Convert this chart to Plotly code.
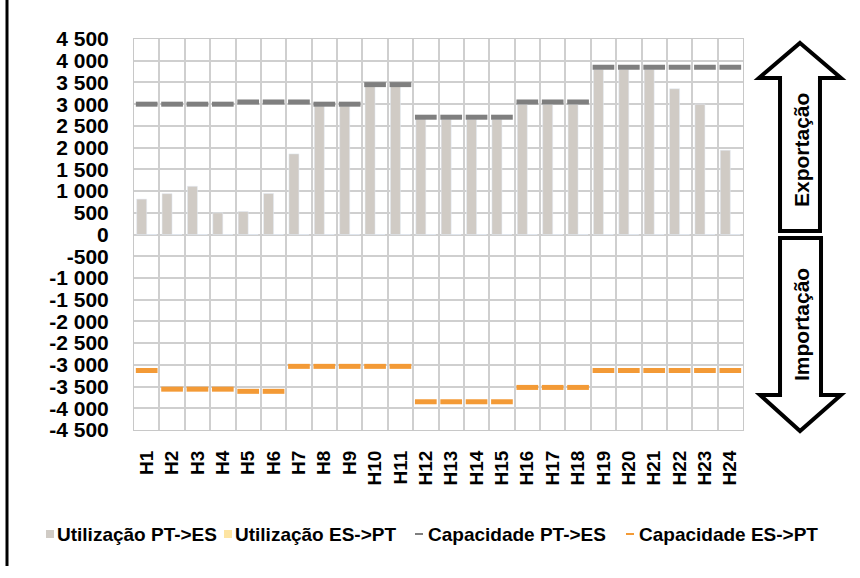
import plotly.graph_objects as go

# Hourly interconnection data (MW)
hours = [f"H{i}" for i in range(1, 25)]
uso_pt_es = [815, 940, 1110, 500, 530, 945, 1855, 2960, 2960, 3420, 3420, 2660,
             2650, 2650, 2650, 3000, 3000, 3000, 3800, 3800, 3800, 3355, 3000, 1940]
uso_es_pt = [0] * 24
cap_pt_es = [3000, 3000, 3000, 3000, 3050, 3050, 3050, 3000, 3000, 3450, 3450, 2700,
             2700, 2700, 2700, 3050, 3050, 3050, 3850, 3850, 3850, 3850, 3850, 3850]
cap_es_pt = [-3130, -3560, -3560, -3560, -3610, -3610, -3035, -3035, -3035, -3035, -3035, -3850,
             -3850, -3850, -3850, -3520, -3520, -3520, -3130, -3130, -3130, -3130, -3130, -3130]

y_ticks = list(range(-4500, 4501, 500))
y_labels = [("-" if v < 0 else "") + f"{abs(v):,}".replace(",", " ") for v in y_ticks]

legend_names = ["Utilização PT->ES", "Utilização ES->PT", "Capacidade PT->ES", "Capacidade ES->PT"]

C_USO_PT = "#d0cbc5"
C_USO_ES = "#fde4a2"
C_CAP_PT = "#7f7f7f"
C_CAP_ES = "#f39a36"
FONT = "Liberation Sans, Arial, sans-serif"

W, H = 860, 578
L, R, T, B = 134, 743, 39, 430  # plot area in pixels

fig = go.Figure()
fig.add_bar(x=hours, y=uso_pt_es, name=legend_names[0], marker_color=C_USO_PT)
fig.add_bar(x=hours, y=uso_es_pt, name=legend_names[1], marker_color=C_USO_ES)
# line-ew markers are drawn 1.4x their size wide, so 15.5 gives ~22 px dashes
fig.add_scatter(x=hours, y=cap_pt_es, name=legend_names[2], mode="markers",
                marker=dict(symbol="line-ew", size=15.5, line=dict(width=5, color=C_CAP_PT)))
fig.add_scatter(x=hours, y=cap_es_pt, name=legend_names[3], mode="markers",
                marker=dict(symbol="line-ew", size=15.5, line=dict(width=5, color=C_CAP_ES)))


def px(x):
    return (x - L) / (R - L)


def py(y):
    return (B - y) / (B - T)


def path(points):
    return "M " + " L ".join(f"{px(x):.4f},{py(y):.4f}" for x, y in points) + " Z"


shapes = []
# Export / import arrows on the right
up = [(800, 43), (841, 78), (820, 78), (820, 231), (780, 231), (780, 78), (759, 78)]
down = [(780, 238), (821, 238), (821, 395), (841, 395), (800, 431), (760, 395), (780, 395)]
for pts in (up, down):
    shapes.append(dict(type="path", xref="paper", yref="paper", path=path(pts),
                       fillcolor="white", line=dict(color="black", width=4), layer="above"))

# Left frame edge
shapes.append(dict(type="line", xref="paper", yref="paper", x0=px(7), x1=px(7), y0=py(0), y1=py(566),
                   line=dict(color="black", width=3)))

# Legend symbols
ly = 534
shapes.append(dict(type="rect", xref="paper", yref="paper", x0=px(46), x1=px(54), y0=py(ly + 4), y1=py(ly - 4),
                   fillcolor=C_USO_PT, line=dict(width=0)))
shapes.append(dict(type="rect", xref="paper", yref="paper", x0=px(224), x1=px(232), y0=py(ly + 4), y1=py(ly - 4),
                   fillcolor=C_USO_ES, line=dict(width=0)))
shapes.append(dict(type="line", xref="paper", yref="paper", x0=px(415), x1=px(423), y0=py(ly), y1=py(ly),
                   line=dict(color=C_CAP_PT, width=2)))
shapes.append(dict(type="line", xref="paper", yref="paper", x0=px(626), x1=px(634), y0=py(ly), y1=py(ly),
                   line=dict(color=C_CAP_ES, width=2)))

annotations = [
    dict(text="<b>Exportação</b>", x=px(801), y=py(150), xref="paper", yref="paper", textangle=-90,
         xanchor="center", yanchor="middle", showarrow=False,
         font=dict(family=FONT, size=21, color="black")),
    dict(text="<b>Importação</b>", x=px(801), y=py(325), xref="paper", yref="paper", textangle=-90,
         xanchor="center", yanchor="middle", showarrow=False,
         font=dict(family=FONT, size=21, color="black")),
]
for name, x0 in zip(legend_names, [55, 233, 426, 637]):
    annotations.append(dict(text=f"<b>{name}</b>", x=px(x0), y=py(ly), xref="paper", yref="paper",
                            xanchor="left", yanchor="middle", showarrow=False,
                            font=dict(family=FONT, size=19, color="black")))

fig.update_layout(
    width=W, height=H,
    margin=dict(l=L, r=W - R, t=T, b=H - B),
    paper_bgcolor="white", plot_bgcolor="white",
    barmode="group", bargap=0.21, bargroupgap=0,
    showlegend=False,
    font=dict(family=FONT, color="black"),
    shapes=shapes, annotations=annotations,
    xaxis=dict(type="category", range=[-0.5, 23.5], tickmode="array", tickvals=hours, ticktext=hours,
               tickson="boundaries", showgrid=True, gridcolor="#cfcfcf", gridwidth=2,
               showline=True, linecolor="#c8c8c8", linewidth=1, mirror=True, ticks="",
               tickangle=-90, ticklabelstandoff=12,
               tickfont=dict(family=FONT, size=19, color="black", weight="bold")),
    yaxis=dict(range=[-4500, 4500], tickvals=y_ticks, ticktext=y_labels, showgrid=True,
               gridcolor="#cfcfcf", gridwidth=2, zeroline=True, zerolinecolor="#cfcfcf", zerolinewidth=2,
               showline=True, linecolor="#c8c8c8", linewidth=1, mirror=True, ticks="",
               ticklabelstandoff=20,
               tickfont=dict(family=FONT, size=21, color="black", weight="bold")),
)

fig.write_html("out.html")
